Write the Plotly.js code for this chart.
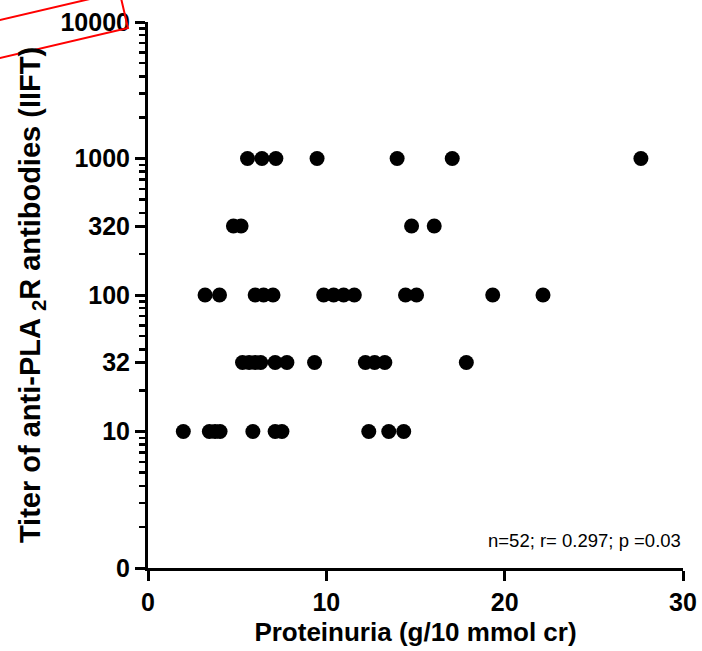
<!DOCTYPE html>
<html>
<head>
<meta charset="utf-8">
<script src="https://cdn.plot.ly/plotly-3.0.1.min.js"></script>
<style>html,body{margin:0;padding:0;background:#fff;}#chart{width:702px;height:651px;}</style>
</head>
<body>
<div id="chart"></div>
<script>
// Titer levels (y) and proteinuria values (x)
const titer1000 = [5.58, 6.39, 7.17, 9.48, 13.97, 17.06, 27.64];
const titer320 = [4.79, 5.22, 14.78, 16.05];
const titer100 = [3.20, 4.01, 6.01, 6.48, 7.01, 9.85, 10.41, 10.97, 11.57, 14.44, 15.06, 19.33, 22.15];
const titer32 = [5.30, 5.67, 6.01, 6.32, 7.13, 7.79, 9.34, 12.19, 12.71, 13.28, 17.85];
const titer10 = [1.98, 3.44, 3.76, 4.04, 5.88, 7.13, 7.51, 12.38, 13.50, 14.34];

const yTickVals = [1, 10, 32, 100, 320, 1000, 10000];
const yTickText = ["0", "10", "32", "100", "320", "1000", "10000"];
const yMinorVals = [2,3,4,5,6,7,8,9, 20, 40,50,60,70,80,90, 200, 400,500,600,700,800,900, 2000,3000,4000,5000,6000,7000,8000,9000];
const xTickVals = [0, 10, 20, 30];
const statsText = "n=52; r= 0.297; p =0.03";

const groups = [[titer1000, 1000], [titer320, 320], [titer100, 100], [titer32, 32], [titer10, 10]];
const xs = [], ys = [];
groups.forEach(([arr, t]) => arr.forEach(v => { xs.push(v); ys.push(t); }));

const FONT = "Liberation Sans, Arial, Helvetica, sans-serif";

// plot-area pixel geometry for the decorative red box
const L = 148, T = 22, W = 535, H = 546;
const px = (x) => ((x - L) / W).toFixed(4);
const py = (y) => ((T + H - y) / H).toFixed(4);
const box = [[-164, 96.4], [128, 28], [119.6, -8.0], [-172.4, 60.4]];
const boxPath = 'M' + box.map(p => px(p[0]) + ',' + py(p[1])).join(' L') + ' Z';

const trace = {
  type: 'scatter', mode: 'markers', x: xs, y: ys,
  marker: {size: 15, color: '#000000'},
  cliponaxis: false, hoverinfo: 'x+y'
};

const layout = {
  width: 702, height: 651,
  margin: {l: L, r: 702 - L - W, t: T, b: 651 - T - H},
  paper_bgcolor: '#ffffff', plot_bgcolor: '#ffffff',
  showlegend: false,
  font: {family: FONT, color: '#000000'},
  xaxis: {
    range: [0, 30], tickvals: xTickVals, ticktext: xTickVals.map(String),
    showgrid: false, zeroline: false,
    showline: true, linecolor: '#000', linewidth: 3,
    ticks: 'outside', ticklen: 10, tickwidth: 3, tickcolor: '#000',
    tickfont: {family: FONT, size: 25, weight: 'bold'},
    title: {text: 'Proteinuria (g/10 mmol cr)', font: {family: FONT, size: 26, weight: 'bold'}, standoff: 8},
    automargin: false
  },
  yaxis: {
    type: 'log', range: [0, 4],
    tickvals: yTickVals, ticktext: yTickText,
    showgrid: false, zeroline: false,
    showline: true, linecolor: '#000', linewidth: 3,
    ticks: 'outside', ticklen: 10, tickwidth: 3, tickcolor: '#000',
    tickfont: {family: FONT, size: 25, weight: 'bold'},
    minor: {tickmode: 'array', tickvals: yMinorVals, ticks: 'outside', ticklen: 6, tickwidth: 2.5, tickcolor: '#000', showgrid: false},
    title: {text: 'Titer of anti-PLA <sub>2</sub>R antibodies (IIFT)', font: {family: FONT, size: 29, weight: 'bold'}, standoff: 12},
    automargin: false
  },
  annotations: [{
    xref: 'paper', yref: 'paper', x: 1.0, y: 0.051, xanchor: 'right', yanchor: 'middle',
    text: statsText, showarrow: false, font: {family: FONT, size: 18.5, color: '#000'}
  }],
  shapes: [{
    type: 'path', xref: 'paper', yref: 'paper', path: boxPath,
    line: {color: '#ff0000', width: 2}, fillcolor: 'rgba(0,0,0,0)', layer: 'above'
  }]
};

Plotly.newPlot('chart', [trace], layout, {displayModeBar: false, staticPlot: true});
</script>
</body>
</html>
